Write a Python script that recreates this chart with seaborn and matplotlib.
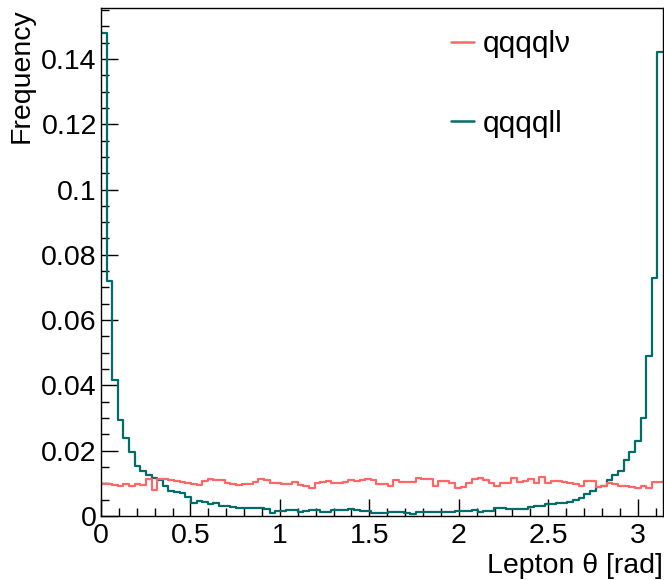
import numpy as np
import pandas as pd
import matplotlib
matplotlib.use("Agg")
import matplotlib.pyplot as plt
from matplotlib.lines import Line2D
from matplotlib.ticker import MultipleLocator, FixedLocator
import seaborn as sns

# ---------------- data ----------------
n_bins = 100
theta_min, theta_max = 0.0, np.pi

series_names = ["qqqql\u03bd", "qqqqll"]
series_colors = ["#ff6666", "#006d6b"]

freq_qqqqlv = [
    0.0097, 0.0097, 0.0095, 0.0092, 0.0097, 0.0093, 0.0097, 0.0095, 0.0112, 0.0080,
    0.0112, 0.0112, 0.0110, 0.0107, 0.0103, 0.0100, 0.0097, 0.0095, 0.0107, 0.0113,
    0.0110, 0.0110, 0.0102, 0.0097, 0.0095, 0.0097, 0.0097, 0.0105, 0.0113, 0.0110,
    0.0100, 0.0100, 0.0097, 0.0097, 0.0105, 0.0095, 0.0091, 0.0087, 0.0102, 0.0104,
    0.0107, 0.0102, 0.0100, 0.0105, 0.0110, 0.0107, 0.0110, 0.0112, 0.0111, 0.0097,
    0.0097, 0.0093, 0.0110, 0.0105, 0.0103, 0.0103, 0.0117, 0.0113, 0.0113, 0.0093,
    0.0107, 0.0107, 0.0100, 0.0087, 0.0090, 0.0100, 0.0113, 0.0115, 0.0110, 0.0100,
    0.0093, 0.0102, 0.0100, 0.0117, 0.0105, 0.0107, 0.0112, 0.0102, 0.0118, 0.0100,
    0.0107, 0.0107, 0.0103, 0.0100, 0.0097, 0.0093, 0.0107, 0.0107, 0.0090, 0.0093,
    0.0102, 0.0097, 0.0092, 0.0092, 0.0090, 0.0087, 0.0092, 0.0087, 0.0103, 0.0103,
]

freq_qqqqll = [
    0.1480, 0.0721, 0.0416, 0.0295, 0.0239, 0.0196, 0.0154, 0.0139, 0.0127, 0.0117,
    0.0111, 0.0092, 0.0076, 0.0075, 0.0071, 0.0057, 0.0041, 0.0045, 0.0042, 0.0038,
    0.0040, 0.0031, 0.0030, 0.0027, 0.0023, 0.0023, 0.0023, 0.0026, 0.0025, 0.0020,
    0.0010, 0.0014, 0.0015, 0.0017, 0.0018, 0.0013, 0.0014, 0.0019, 0.0018, 0.0011,
    0.0013, 0.0018, 0.0018, 0.0018, 0.0020, 0.0017, 0.0016, 0.0014, 0.0010, 0.0009,
    0.0009, 0.0011, 0.0012, 0.0011, 0.0010, 0.0007, 0.0012, 0.0012, 0.0011, 0.0013,
    0.0013, 0.0012, 0.0013, 0.0014, 0.0014, 0.0014, 0.0017, 0.0013, 0.0016, 0.0014,
    0.0023, 0.0023, 0.0022, 0.0022, 0.0020, 0.0020, 0.0028, 0.0031, 0.0032, 0.0036,
    0.0036, 0.0041, 0.0040, 0.0044, 0.0049, 0.0055, 0.0068, 0.0077, 0.0090, 0.0093,
    0.0111, 0.0127, 0.0137, 0.0172, 0.0196, 0.0230, 0.0300, 0.0490, 0.0730, 0.1420,
]

y_ticks = [0, 0.02, 0.04, 0.06, 0.08, 0.10, 0.12, 0.14]
y_tick_labels = ["0", "0.02", "0.04", "0.06", "0.08", "0.1", "0.12", "0.14"]
x_ticks = [0, 0.5, 1, 1.5, 2, 2.5, 3]
x_tick_labels = ["0", "0.5", "1", "1.5", "2", "2.5", "3"]

x_title = "Lepton \u03b8 [rad]"
y_title = "Frequency"

# ---------------- build table ----------------
edges = np.linspace(theta_min, theta_max, n_bins + 1)
centers = 0.5 * (edges[:-1] + edges[1:])
df = pd.concat([
    pd.DataFrame({"theta": centers, "freq": freq_qqqqlv, "sample": series_names[0]}),
    pd.DataFrame({"theta": centers, "freq": freq_qqqqll, "sample": series_names[1]}),
], ignore_index=True)

# ---------------- plot ----------------
sns.set_theme(style="ticks")
plt.rcParams["font.family"] = ["Liberation Sans", "DejaVu Sans"]
plt.rcParams["text.color"] = "black"
plt.rcParams["axes.labelcolor"] = "black"
plt.rcParams["xtick.labelcolor"] = "black"
plt.rcParams["ytick.labelcolor"] = "black"

fig = plt.figure(figsize=(6.64, 5.80), dpi=100)
ax = fig.add_axes([101 / 664, 64 / 580, 562 / 664, 508 / 580])

palette = dict(zip(series_names, series_colors))
sns.histplot(data=df, x="theta", weights="freq", hue="sample",
             bins=n_bins, binrange=(theta_min, theta_max),
             element="step", fill=False, palette=palette, linewidth=1.6,
             legend=False, ax=ax)

ax.set_xlim(theta_min, theta_max)
ax.set_ylim(0, 0.1556)

ax.xaxis.set_major_locator(FixedLocator(x_ticks))
ax.set_xticklabels(x_tick_labels)
ax.xaxis.set_minor_locator(MultipleLocator(0.1))
ax.yaxis.set_major_locator(FixedLocator(y_ticks))
ax.set_yticklabels(y_tick_labels)
ax.yaxis.set_minor_locator(MultipleLocator(0.005))

fs = 20.5
ax.tick_params(axis="both", which="major", direction="in", length=12, width=1,
               labelsize=fs, color="black", labelcolor="black", top=False, right=False)
ax.tick_params(axis="both", which="minor", direction="in", length=6, width=1,
               color="black", top=False, right=False)
ax.tick_params(axis="x", which="major", pad=5)
ax.tick_params(axis="y", which="major", pad=3)

for s in ax.spines.values():
    s.set_visible(True)
    s.set_color("black")
    s.set_linewidth(1.0)

ax.set_xlabel(x_title, fontsize=fs, loc="right", color="black")
ax.xaxis.set_label_coords(1.0, -0.072)
ax.set_ylabel(y_title, fontsize=fs, loc="top", color="black")
ax.yaxis.set_label_coords(-0.118, 1.0)

handles = [Line2D([0], [0], color=c, lw=1.8) for c in series_colors]
leg = ax.legend(handles, series_names, loc="upper left",
                bbox_to_anchor=((451 - 101) / 562, (516 - 30) / 508),
                frameon=False, borderpad=0, borderaxespad=0, handlelength=0.78,
                handletextpad=0.28, labelspacing=1.73, fontsize=21.5)
for t in leg.get_texts():
    t.set_color("black")

ax.set_facecolor("white")
fig.patch.set_facecolor("white")
fig.savefig("out.png", dpi=100)
